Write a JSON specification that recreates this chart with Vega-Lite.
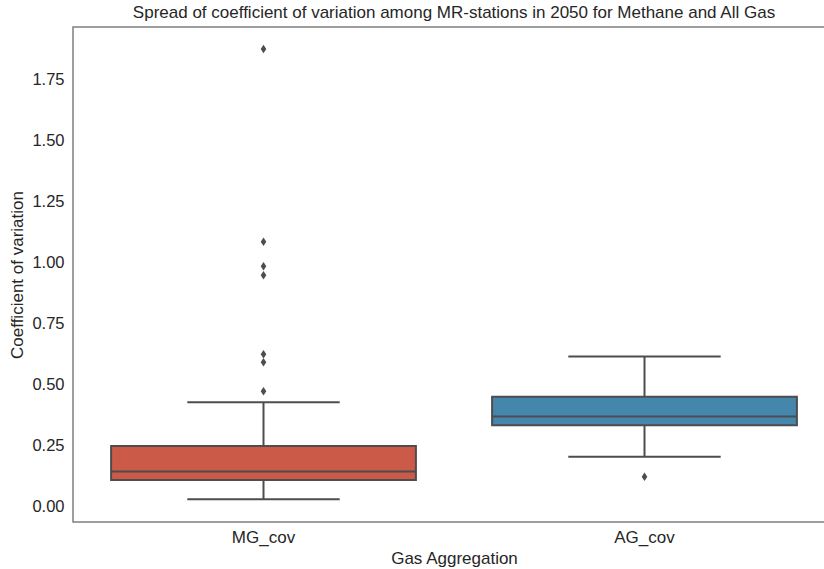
{
  "$schema": "https://vega.github.io/schema/vega-lite/v6.json",
  "autosize": {"type": "none"},
  "width": 762,
  "height": 495,
  "padding": {"left": 73, "top": 27, "right": -11, "bottom": 47},
  "background": "white",
  "title": {
    "text": "Spread of coefficient of variation among MR-stations in 2050 for Methane and All Gas",
    "font": "Liberation Sans",
    "fontSize": 17,
    "fontWeight": "normal",
    "color": "#262626",
    "anchor": "middle",
    "offset": 5
  },
  "config": {
    "view": {"stroke": "#7f7f7f", "strokeWidth": 1.5},
    "axis": {
      "grid": false,
      "ticks": false,
      "domain": false,
      "labelFont": "Liberation Sans",
      "titleFont": "Liberation Sans",
      "labelColor": "#262626",
      "titleColor": "#262626",
      "titleFontWeight": "normal"
    }
  },
  "datasets": {
    "stats": [
      {"group": "MG_cov", "lower": 0.0275, "q1": 0.1066, "median": 0.142, "q3": 0.246, "upper": 0.426},
      {"group": "AG_cov", "lower": 0.2025, "q1": 0.331, "median": 0.3676, "q3": 0.448, "upper": 0.6135}
    ],
    "outliers": [
      {"group": "MG_cov", "value": 1.875},
      {"group": "MG_cov", "value": 1.0836},
      {"group": "MG_cov", "value": 0.9836},
      {"group": "MG_cov", "value": 0.9467},
      {"group": "MG_cov", "value": 0.623},
      {"group": "MG_cov", "value": 0.59},
      {"group": "MG_cov", "value": 0.471},
      {"group": "AG_cov", "value": 0.1205}
    ]
  },
  "encoding": {
    "x": {
      "field": "group",
      "type": "nominal",
      "sort": ["MG_cov", "AG_cov"],
      "scale": {"domain": ["MG_cov", "AG_cov"], "paddingInner": 0, "paddingOuter": 0},
      "axis": {
        "title": "Gas Aggregation",
        "labelAngle": 0,
        "labelFontSize": 17,
        "titleFontSize": 17,
        "labelPadding": 7,
        "titlePadding": 5
      }
    }
  },
  "layer": [
    {
      "data": {"name": "stats"},
      "mark": {"type": "rule", "color": "#4d4d4d", "strokeWidth": 2},
      "encoding": {
        "y": {
          "field": "lower",
          "type": "quantitative",
          "scale": {"domain": [-0.0656, 1.965], "nice": false, "zero": false},
          "axis": {
            "title": "Coefficient of variation",
            "values": [0, 0.25, 0.5, 0.75, 1, 1.25, 1.5, 1.75],
            "format": ".2f",
            "labelFontSize": 16.5,
            "titleFontSize": 17,
            "labelPadding": 9,
            "titlePadding": 5
          }
        },
        "y2": {"field": "upper"}
      }
    },
    {
      "data": {"name": "stats"},
      "mark": {"type": "bar", "width": {"band": 0.4}, "stroke": "#4d4d4d", "strokeWidth": 2, "fill": null},
      "encoding": {
        "y": {"field": "lower", "type": "quantitative"},
        "y2": {"field": "lower"}
      }
    },
    {
      "data": {"name": "stats"},
      "mark": {"type": "bar", "width": {"band": 0.4}, "stroke": "#4d4d4d", "strokeWidth": 2, "fill": null},
      "encoding": {
        "y": {"field": "upper", "type": "quantitative"},
        "y2": {"field": "upper"}
      }
    },
    {
      "data": {"name": "stats"},
      "mark": {"type": "bar", "width": {"band": 0.8}, "stroke": "#4d4d4d", "strokeWidth": 2, "opacity": 1},
      "encoding": {
        "y": {"field": "q1", "type": "quantitative"},
        "y2": {"field": "q3"},
        "fill": {
          "field": "group",
          "type": "nominal",
          "scale": {"domain": ["MG_cov", "AG_cov"], "range": ["#CC5A49", "#4586AC"]},
          "legend": null
        }
      }
    },
    {
      "data": {"name": "stats"},
      "mark": {"type": "bar", "width": {"band": 0.8}, "stroke": "#4d4d4d", "strokeWidth": 2, "fill": null},
      "encoding": {
        "y": {"field": "median", "type": "quantitative"},
        "y2": {"field": "median"}
      }
    },
    {
      "data": {"name": "outliers"},
      "mark": {
        "type": "point",
        "shape": "M0,-1L0.66,0L0,1L-0.66,0Z",
        "filled": true,
        "size": 72,
        "color": "#4d4d4d",
        "opacity": 1
      },
      "encoding": {
        "y": {"field": "value", "type": "quantitative"}
      }
    }
  ]
}
